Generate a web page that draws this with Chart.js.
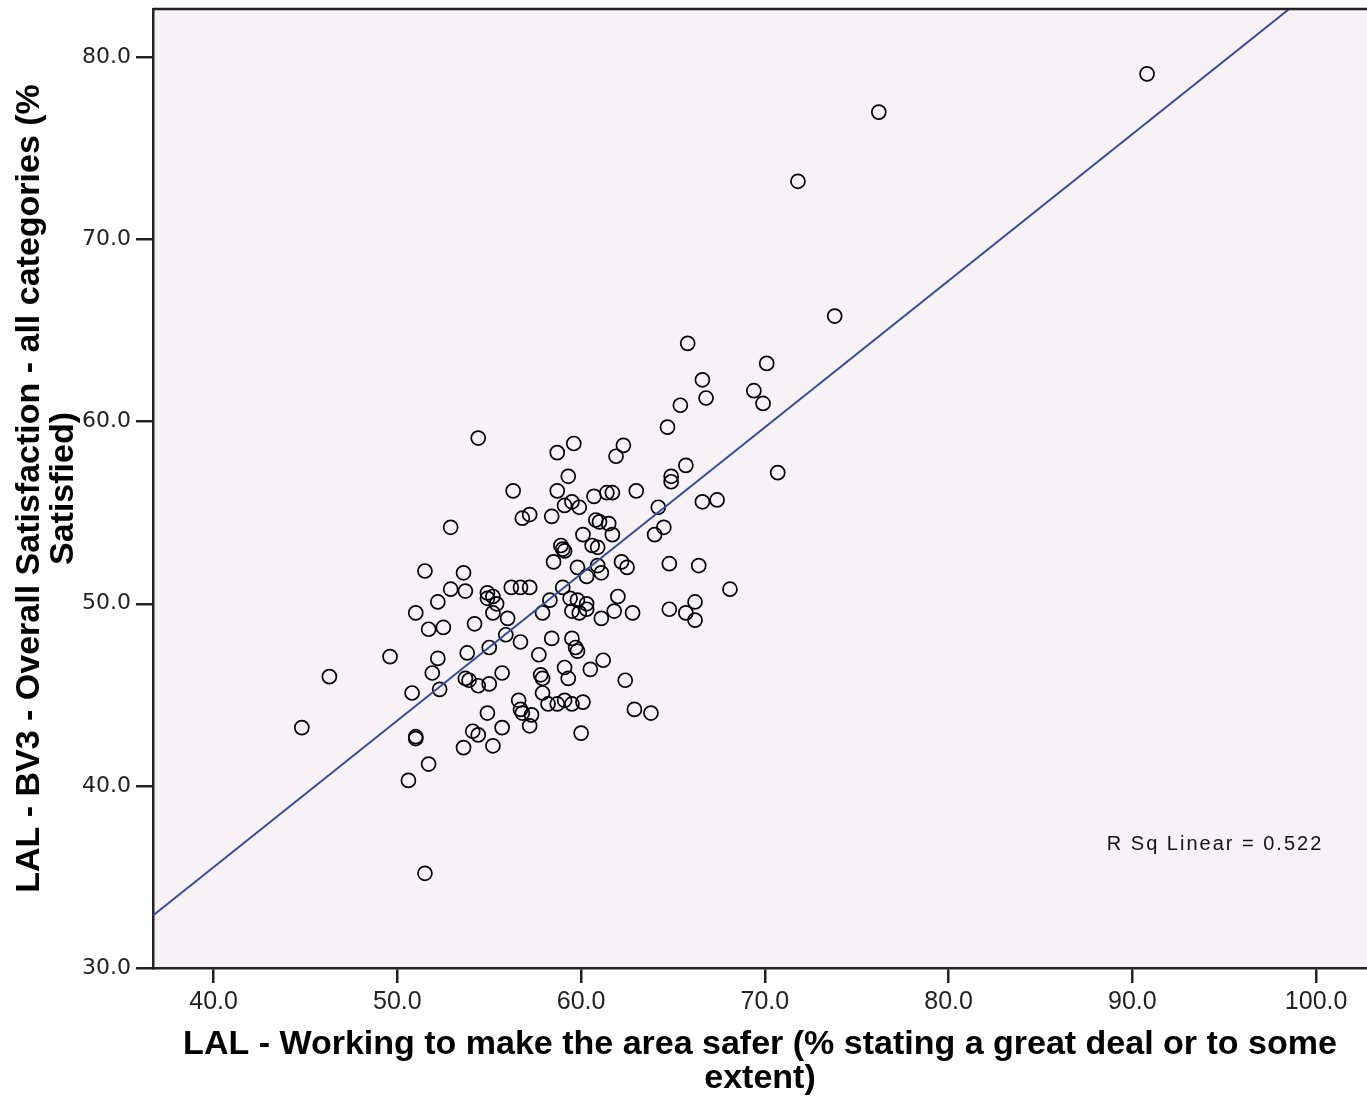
<!DOCTYPE html>
<html>
<head>
<meta charset="utf-8">
<script src="https://cdn.jsdelivr.net/npm/chart.js@4.4.0/dist/chart.umd.min.js"></script>
<style>
  html, body { margin: 0; padding: 0; background: #fff; overflow: hidden; }
  #wrap { width: 1367px; height: 1096px; position: relative; }
  #scatterChart { display: block; }
</style>
</head>
<body>
<div id="wrap"><canvas id="scatterChart" width="1367" height="1096"></canvas></div>
<script>
// LAL - Working to make the area safer (% a great deal / some extent)
const safer = [
    90.8, 76.2, 71.8, 73.8, 65.8, 70.1, 66.6, 69.4, 66.8, 69.9,
    65.4, 64.7, 54.4, 59.6, 62.3, 58.7, 61.9, 65.7, 59.3, 64.9,
    64.9, 70.7, 56.3, 58.7, 61.4, 61.7, 63.0, 60.7, 66.6, 67.4,
    59.1, 59.5, 59.9, 64.2, 57.2, 56.8, 58.4, 60.8, 61.0, 61.5,
    64.5, 52.9, 64.0, 60.1, 61.7, 60.6, 60.9, 58.9, 59.0, 59.1,
    58.5, 59.8, 60.9, 61.1, 60.3, 62.2, 62.5, 64.8, 66.4,
    53.6, 51.5, 52.9, 53.7, 52.2, 54.9, 55.2, 54.9, 56.2, 56.7,
    57.2, 55.4, 59.0, 59.4, 59.8, 60.3, 58.3, 62.0, 68.1, 51.0,
    51.7, 52.5, 54.2, 55.2, 56.0, 57.9, 59.5, 59.9, 60.3, 61.1,
    61.8, 62.8, 64.8, 66.2, 65.7, 66.2, 49.6, 52.2, 51.9, 53.8,
    55.0, 55.9, 56.7, 58.4, 59.5, 59.7, 59.8, 57.7,
    61.2, 60.5, 59.1, 59.3, 57.8, 57.9, 55.7, 53.7, 53.9, 54.4, 55.0,
    46.3, 50.8, 52.3, 62.4, 57.9, 58.2, 58.7, 59.1, 59.5, 60.1,
    56.6, 56.7, 56.8, 57.3, 57.2, 54.9, 55.7, 54.1, 54.4, 53.6,
    55.2, 60.0, 62.9, 63.8, 44.8, 51.0, 51.0, 51.7, 50.6, 51.5
];

// LAL - BV3 - Overall Satisfaction (% satisfied)
const satisfied = [
    79.1, 77.0, 73.2, 65.8, 64.3, 63.2, 62.3, 61.7, 61.3, 61.0,
    60.9, 59.7, 59.1, 58.8, 58.7, 58.3, 58.1, 57.6, 57.0, 57.0,
    56.7, 57.2, 56.2, 56.2, 56.1, 56.1, 56.2, 55.9, 55.6, 55.7,
    55.4, 55.6, 55.3, 55.3, 54.9, 54.7, 54.8, 54.6, 54.5, 54.4,
    54.2, 54.2, 53.8, 53.8, 53.8, 53.2, 53.1, 53.2, 53.0, 52.9,
    52.3, 52.0, 52.1, 51.7, 51.5, 52.3, 52.0, 52.2, 52.1,
    51.7, 51.8, 50.8, 50.7, 50.1, 50.6, 50.4, 50.3, 50.9, 50.9,
    50.9, 50.0, 50.9, 50.3, 50.2, 50.0, 50.2, 50.4, 50.8, 49.5,
    48.6, 48.7, 48.9, 49.5, 49.2, 49.5, 49.6, 49.5, 49.7, 49.2,
    49.6, 49.5, 49.7, 50.1, 49.5, 49.1, 47.1, 47.0, 46.2, 47.3,
    47.6, 48.3, 47.9, 48.1, 48.1, 47.6, 47.4, 47.2,
    46.9, 46.4, 46.5, 45.9, 46.1, 45.9, 46.2, 45.9, 45.8, 45.5, 45.6,
    46.0, 45.1, 45.3, 45.8, 45.1, 44.5, 44.5, 44.7, 44.5, 44.6,
    44.7, 44.2, 44.0, 43.9, 43.3, 44.0, 43.2, 43.0, 42.8, 42.1,
    42.2, 42.9, 44.2, 44.0, 43.2, 42.7, 42.6, 41.2, 40.3, 35.2
];

const xTicks = [40, 50, 60, 70, 80, 90, 100];
const yTicks = [30, 40, 50, 60, 70, 80];

// linear fit (from SPSS output)
const fitIntercept = 3.34;
const fitSlope = 0.805;
const rSqLabel = 'R Sq Linear = 0.522';

const xMin = 36.7, xMax = 102.77;
const yMin = 30, yMax = 82.66;

const xTitle = ['LAL - Working to make the area safer (% stating a great deal or to some', 'extent)'];
const yTitle = ['LAL - BV3 - Overall Satisfaction - all categories (%', 'Satisfied)'];

const points = safer.map(function (v, i) {
    return { x: v, y: satisfied[i] };
});
const fitEnd = (yMax - fitIntercept) / fitSlope;
const fitLine = [
    { x: xMin, y: fitIntercept + fitSlope * xMin },
    { x: fitEnd, y: yMax }
];

// background, top frame and the R Sq note
const plotDecor = {
    id: 'plotDecor',
    beforeDraw: function (chart) {
        const c = chart.ctx, a = chart.chartArea;
        c.save();
        c.fillStyle = '#ffffff';
        c.fillRect(0, 0, chart.width, chart.height);
        c.fillStyle = '#f6f2f6';
        c.fillRect(a.left, a.top, a.right - a.left, a.bottom - a.top);
        c.restore();
    },
    afterDraw: function (chart) {
        const c = chart.ctx, a = chart.chartArea;
        c.save();
        c.strokeStyle = '#222';
        c.lineWidth = 2.5;
        c.beginPath();
        c.moveTo(a.left, a.top);
        c.lineTo(a.right, a.top);
        c.stroke();
        c.fillStyle = '#111';
        c.font = '20px "Liberation Sans", Arial, sans-serif';
        c.letterSpacing = '2px';
        c.textAlign = 'center';
        c.textBaseline = 'middle';
        c.fillText(rSqLabel, chart.scales.x.getPixelForValue(94.5), chart.scales.y.getPixelForValue(36.8));
        c.restore();
    }
};

const ctx = document.getElementById('scatterChart').getContext('2d');
new Chart(ctx, {
    type: 'scatter',
    data: {
        datasets: [{
            label: 'Fit',
            type: 'line',
            data: fitLine,
            borderColor: '#3a4a9a',
            borderWidth: 2,
            pointRadius: 0,
            fill: false
        }, {
            label: 'Areas',
            data: points,
            pointStyle: 'circle',
            pointRadius: 7,
            pointBorderWidth: 1.7,
            borderColor: '#000',
            backgroundColor: 'rgba(0,0,0,0)'
        }]
    },
    plugins: [plotDecor],
    options: {
        responsive: false,
        animation: false,
        layout: { autoPadding: false, padding: { top: 9, right: 0, left: 0, bottom: 0 } },
        plugins: {
            legend: { display: false },
            tooltip: { enabled: false }
        },
        scales: {
            x: {
                type: 'linear',
                min: xMin,
                max: xMax,
                afterBuildTicks: function (s) {
                    s.ticks = xTicks.map(function (v) { return { value: v }; });
                },
                afterFit: function (s) {
                    s.height = 128;
                    s.paddingLeft = 0;
                    s.paddingRight = 0;
                },
                ticks: {
                    autoSkip: false,
                    maxRotation: 0,
                    padding: 4,
                    color: '#222',
                    font: { family: '"Liberation Sans Narrow", Arial, sans-serif', size: 25 },
                    callback: function (v) { return v.toFixed(1); }
                },
                grid: { drawOnChartArea: false, tickLength: 15, color: '#222', lineWidth: 2.5 },
                border: { color: '#222', width: 2.5 },
                title: {
                    display: true,
                    text: xTitle,
                    color: '#000',
                    padding: { top: 0, bottom: 0 },
                    font: { family: '"Liberation Sans Narrow", Arial, sans-serif', size: 34, weight: 'bold', lineHeight: '34px' }
                }
            },
            y: {
                type: 'linear',
                min: yMin,
                max: yMax,
                afterBuildTicks: function (s) {
                    s.ticks = yTicks.map(function (v) { return { value: v }; });
                },
                afterFit: function (s) {
                    s.width = 153;
                    s.paddingTop = 0;
                    s.paddingBottom = 0;
                },
                ticks: {
                    padding: 5,
                    color: '#222',
                    font: { family: '"DejaVu Sans", Arial, sans-serif', size: 22 },
                    callback: function (v) { return v.toFixed(1); }
                },
                grid: { drawOnChartArea: false, tickLength: 17, color: '#222', lineWidth: 2.5 },
                border: { color: '#222', width: 2.5 },
                title: {
                    display: true,
                    text: yTitle,
                    color: '#000',
                    padding: { top: 13, bottom: 0 },
                    font: { family: '"Liberation Sans Narrow", Arial, sans-serif', size: 34, weight: 'bold', lineHeight: '34px' }
                }
            }
        }
    }
});
</script>
</body>
</html>
